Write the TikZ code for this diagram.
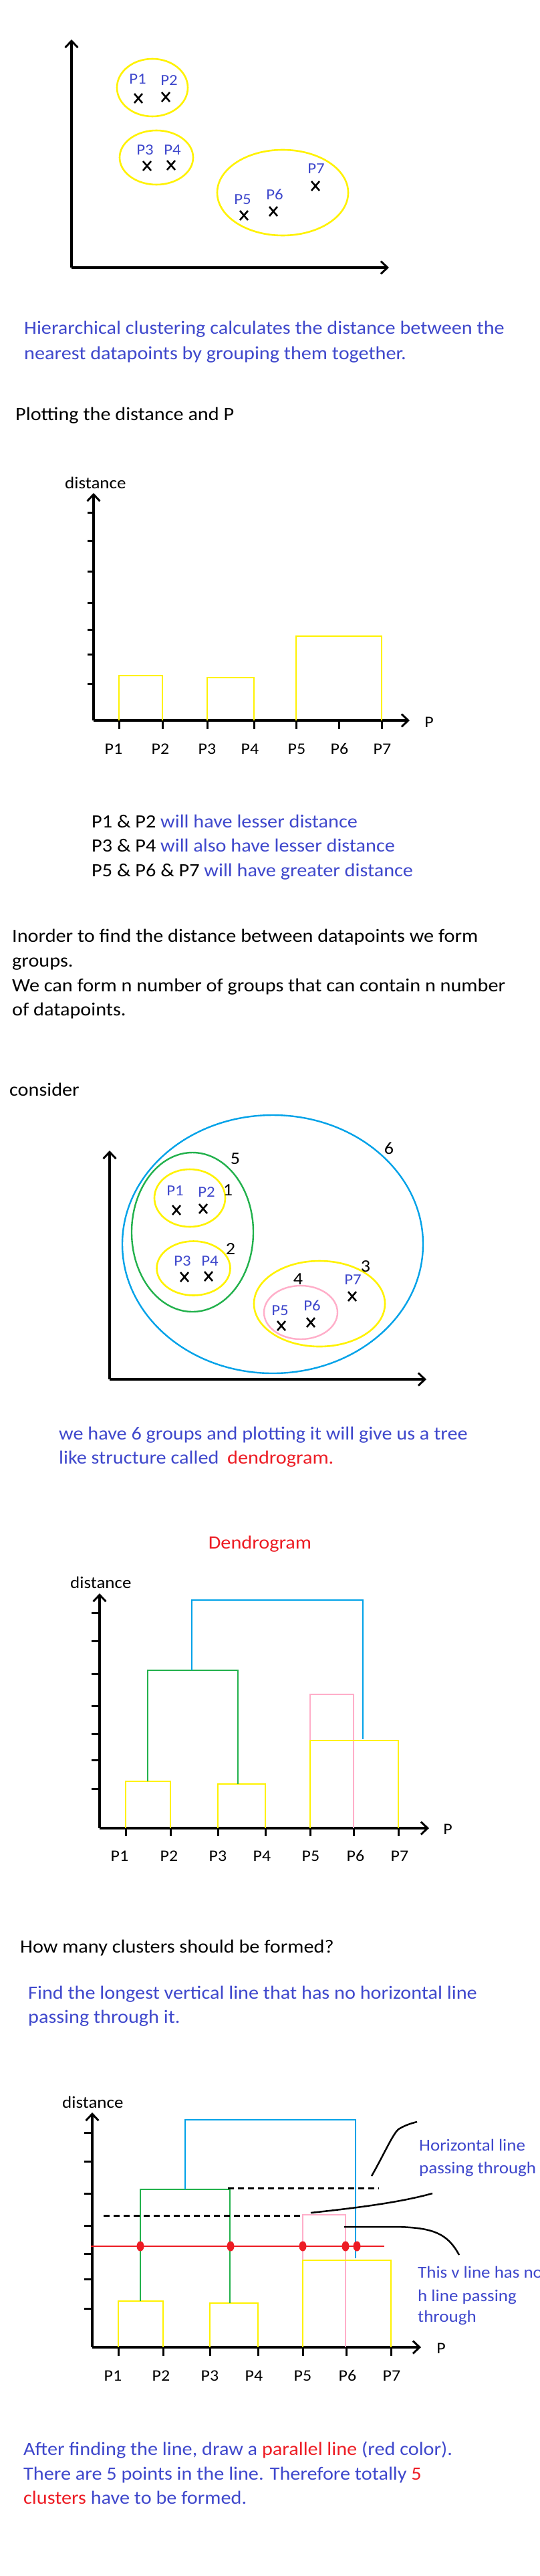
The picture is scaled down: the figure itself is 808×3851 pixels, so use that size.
\documentclass[tikz,border=0pt]{standalone}
\usepackage{fontspec}
\setmainfont{Carlito}[FakeStretch=1.08]
\usetikzlibrary{arrows.meta}
\definecolor{ind}{HTML}{3F48CC}
\definecolor{pred}{HTML}{ED1C24}
\definecolor{pyel}{HTML}{FFF200}
\definecolor{pgreen}{HTML}{22B14C}
\definecolor{pblue}{HTML}{00A2E8}
\definecolor{prose}{HTML}{FFAEC9}
\tikzset{
  axisline/.style={line width=3.5pt, black},
  arrowed/.style={-{Straight Barb[length=10pt,width=19pt,line width=3pt]}},
  tick/.style={line width=3pt, black},
  ybox/.style={draw=pyel, line width=2.6pt},
  gbox/.style={draw=pgreen, line width=2.4pt},
  bbox/.style={draw=pblue, line width=2.4pt},
  rbox/.style={draw=prose, line width=2.4pt},
  txt/.style={anchor=base west, inner sep=0pt, font=\fontsize{28}{34}\selectfont},
  btxt/.style={txt, text=ind},
  small/.style={anchor=base west, inner sep=0pt, font=\fontsize{25}{30}\selectfont},
  plab/.style={anchor=center, inner sep=0pt, text=ind, font=\fontsize{23}{28}\selectfont},
  xlab/.style={anchor=base, inner sep=0pt, font=\fontsize{24}{30}\selectfont},
  numlab/.style={anchor=center, inner sep=0pt, font=\fontsize{26}{30}\selectfont},
  note/.style={anchor=base west, inner sep=0pt, text=ind, font=\fontsize{25}{30}\selectfont},
  xmark/.pic={\draw[line width=2.6pt, black] (-6,-7) -- (6,7) (-6,7) -- (6,-7);},
  rdot/.style={fill=pred, draw=none},
}
\begin{document}
\begin{tikzpicture}[x=1pt, y=-1pt]
\useasboundingbox (0,0) rectangle (808,3851);
\fill[white] (0,0) rectangle (808,3851);

% ===== Section 1: scatter =====
\coordinate (o1) at (107,400);
\coordinate (y1) at (107,59);
\coordinate (x1) at (582,400);
\draw[axisline, arrowed] (o1) -- (y1);
\draw[axisline, arrowed] (o1) -- (x1);
\draw[draw=pyel, line width=2.6pt] (228,131) ellipse [x radius=53, y radius=43];
\draw[draw=pyel, line width=2.6pt] (234,235.5) ellipse [x radius=55, y radius=40.5];
\draw[draw=pyel, line width=2.6pt] (423,288) ellipse [x radius=98, y radius=64];
\node[plab] (sa1) at (206,118) {P1};
\node[plab] (sa2) at (253,120) {P2};
\node[plab] (sa3) at (217,224) {P3};
\node[plab] (sa4) at (258,224) {P4};
\node[plab] (sa5) at (363,298) {P5};
\node[plab] (sa6) at (411,291) {P6};
\node[plab] (sa7) at (473,252) {P7};
\pic at (207,147) {xmark};
\pic at (248,145) {xmark};
\pic at (220,248) {xmark};
\pic at (256,247) {xmark};
\pic at (365,322) {xmark};
\pic at (409,316) {xmark};
\pic at (472,278) {xmark};

% ===== Text =====
\node[btxt] (h1) at (36,499) {Hierarchical clustering calculates the distance between the};
\node[btxt] (h2) at (36,537) {nearest datapoints by grouping them together.};
\node[txt] (pl) at (23,628) {Plotting the distance and P};

% ===== Section 3: first plot =====
\node[small] (d1) at (97,730) {distance};
\coordinate (o3) at (140,1077);
\coordinate (y3) at (140,737);
\coordinate (x3) at (613,1077);
\draw[axisline, arrowed] (o3) -- (y3);
\draw[axisline, arrowed] (o3) -- (x3);
\foreach \t in {766,808,854,901,941,978,1022} \draw[tick] (131,\t) -- (140,\t);
\foreach \t in {178,243,310,380,443,507,571} \draw[tick] (\t,1077) -- (\t,1090);
\node[xlab] (p3) at (642,1087) {P};
\foreach \n/\xx in {1/170,2/240,3/310,4/374,5/444,6/508,7/572}
  \node[xlab] (b3\n) at (\xx,1127) {P\n};
\draw[ybox] (178,1077) -- (178,1010) -- (243,1010) -- (243,1077);
\draw[ybox] (310,1077) -- (310,1013) -- (380,1013) -- (380,1077);
\draw[ybox] (443,1077) -- (443,951) -- (571,951) -- (571,1077);

% ===== Section 4 text =====
\node[txt] (l1) at (137,1237) {P1 \& P2 \textcolor{ind}{will have lesser distance}};
\node[txt] (l2) at (137,1273) {P3 \& P4 \textcolor{ind}{will also have lesser distance}};
\node[txt] (l3) at (137,1310) {P5 \& P6 \& P7 \textcolor{ind}{will have greater distance}};
\node[txt] (i1) at (18,1408) {Inorder to find the distance between datapoints we form};
\node[txt] (i2) at (18,1445) {groups.};
\node[txt] (i3) at (18,1482) {We can form n number of groups that can contain n number};
\node[txt] (i4) at (18,1518) {of datapoints.};

% ===== Section 5: nested groups =====
\node[txt] (cons) at (14,1638) {consider};
\coordinate (o5) at (164,2062);
\coordinate (y5) at (164,1720);
\coordinate (x5) at (638,2062);
\draw[axisline, arrowed] (o5) -- (y5);
\draw[axisline, arrowed] (o5) -- (x5);
\draw[bbox] (408,1860) ellipse [x radius=225, y radius=193];
\draw[gbox] (288,1842) ellipse [x radius=91, y radius=119];
\draw[draw=pyel, line width=2.6pt] (284,1791) ellipse [x radius=53, y radius=43];
\draw[draw=pyel, line width=2.6pt] (289.5,1896) ellipse [x radius=55, y radius=40.5];
\draw[draw=pyel, line width=2.6pt] (478,1949) ellipse [x radius=98, y radius=64];
\draw[rbox] (450,1962) ellipse [x radius=55, y radius=40];
\node[plab] (sb1) at (262,1780) {P1};
\node[plab] (sb2) at (309,1782) {P2};
\node[plab] (sb3) at (273,1885) {P3};
\node[plab] (sb4) at (314,1885) {P4};
\node[plab] (sb5) at (419,1959) {P5};
\node[plab] (sb6) at (467,1952) {P6};
\node[plab] (sb7) at (528,1913) {P7};
\pic at (264,1809) {xmark};
\pic at (304,1807) {xmark};
\pic at (276,1909) {xmark};
\pic at (312,1908) {xmark};
\pic at (421,1982) {xmark};
\pic at (465,1977) {xmark};
\pic at (527,1938) {xmark};
\node[numlab] (g1) at (341,1779) {1};
\node[numlab] (g2) at (345,1867) {2};
\node[numlab] (g3) at (547,1893) {3};
\node[numlab] (g4) at (446,1912) {4};
\node[numlab] (g5) at (352,1732) {5};
\node[numlab] (g6) at (582,1717) {6};

\node[btxt] (w1) at (88,2152) {we have 6 groups and plotting it will give us a tree};
\node[btxt] (w2) at (88,2188) {like structure called};
\node[txt, text=pred] (w3) at (340,2188) {dendrogram.};

% ===== Section 7: dendrogram =====
\node[txt, anchor=base, text=pred] (dtitle) at (389,2315) {Dendrogram};
\node[small] (d2) at (105,2374) {distance};
\coordinate (o7) at (149,2733);
\coordinate (y7) at (149,2382);
\coordinate (x7) at (642,2733);
\draw[axisline, arrowed] (o7) -- (y7);
\draw[axisline, arrowed] (o7) -- (x7);
\foreach \t in {2411,2453,2502,2550,2592,2631,2674} \draw[tick] (137,\t) -- (149,\t);
\foreach \t in {188,255,326,397,464,529,596} \draw[tick] (\t,2733) -- (\t,2745);
\node[xlab] (p7) at (670,2742) {P};
\foreach \n/\xx in {1/179,2/253,3/326,4/392,5/465,6/532,7/598}
  \node[xlab] (b7\n) at (\xx,2782) {P\n};
\draw[rbox] (464,2602) -- (464,2533) -- (529,2533) -- (529,2733);
\draw[ybox] (188,2733) -- (188,2663) -- (255,2663) -- (255,2733);
\draw[ybox] (326,2733) -- (326,2667) -- (397,2667) -- (397,2733);
\draw[ybox] (464,2733) -- (464,2602) -- (596,2602) -- (596,2733);
\draw[gbox] (221,2663) -- (221,2497) -- (356,2497) -- (356,2667);
\draw[bbox] (287,2497) -- (287,2392) -- (543,2392) -- (543,2600);

% ===== Section 8 =====
\node[txt] (q1) at (30,2919) {How many clusters should be formed?};
\node[btxt] (f1) at (42,2988) {Find the longest vertical line that has no horizontal line};
\node[btxt] (f2) at (42,3024) {passing through it.};
\node[small] (d3) at (93,3151) {distance};
\coordinate (o8) at (138,3509);
\coordinate (y8) at (138,3158);
\coordinate (x8) at (630,3509);
\draw[axisline, arrowed] (o8) -- (y8);
\draw[axisline, arrowed] (o8) -- (x8);
\foreach \t in {3188,3231,3279,3327,3369,3407,3451} \draw[tick] (126,\t) -- (138,\t);
\foreach \t in {177,244,314,386,453,518,585} \draw[tick] (\t,3509) -- (\t,3522);
\node[xlab] (p8) at (660,3518) {P};
\foreach \n/\xx in {1/169,2/241,3/314,4/380,5/453,6/520,7/586}
  \node[xlab] (b8\n) at (\xx,3559) {P\n};
\draw[rbox] (453,3379) -- (453,3311) -- (517,3311) -- (517,3509);
\draw[ybox] (177,3509) -- (177,3440) -- (244,3440) -- (244,3509);
\draw[ybox] (314,3509) -- (314,3443) -- (386,3443) -- (386,3509);
\draw[ybox] (453,3509) -- (453,3379) -- (585,3379) -- (585,3509);
\draw[gbox] (210,3440) -- (210,3273) -- (344,3273) -- (344,3443);
\draw[bbox] (277,3273) -- (277,3169) -- (532,3169) -- (532,3376);
\draw[black, line width=3pt, dash pattern=on 9pt off 6pt] (341,3271.5) -- (567,3271.5);
\draw[black, line width=3pt, dash pattern=on 9pt off 6pt] (155,3312) -- (453,3312);
\coordinate (ra) at (136,3358);
\coordinate (rb) at (575,3358);
\draw[pred, line width=2.7pt] (ra) -- (rb);
\foreach \xx in {210,345,453,517,534} \fill[rdot] (\xx,3358) ellipse [x radius=5.5, y radius=7.5];
% pointer curves
\draw[black, line width=2.5pt] (556,3253) .. controls (575,3220) and (590,3185) .. (598,3182) .. controls (605,3178) and (612,3175) .. (624,3172);
\draw[black, line width=2.5pt] (465,3308) .. controls (540,3300) and (600,3292) .. (647,3279);
\draw[black, line width=2.5pt] (515,3329) -- (593,3329) .. controls (650,3330) and (670,3340) .. (687,3371);
\node[note] (n1) at (627,3215) {Horizontal line};
\node[note] (n2) at (627,3249) {passing through};
\node[note] (n3) at (625,3405) {This v line has no};
\node[note] (n4) at (625,3440) {h line passing};
\node[note] (n5) at (625,3471) {through};

% ===== Final text =====
\node[btxt] (a1) at (35,3670) {After finding the line, draw a \textcolor{pred}{parallel line} (red color).};
\node[btxt] (a2) at (35,3707) {There are 5 points in the line. Therefore totally \textcolor{pred}{5}};
\node[btxt] (a3) at (35,3743) {\textcolor{pred}{clusters} have to be formed.};
\end{tikzpicture}
\end{document}
